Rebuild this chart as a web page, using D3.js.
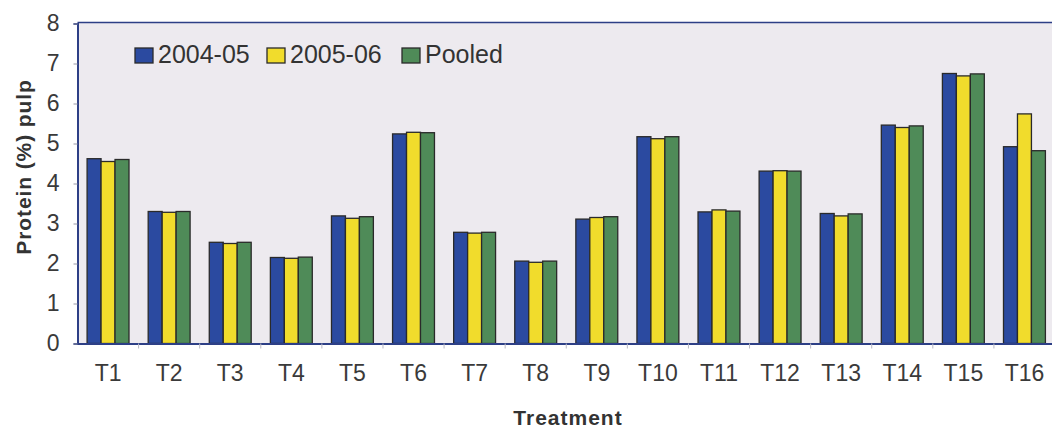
<!DOCTYPE html>
<html>
<head>
<meta charset="utf-8">
<script src="https://cdn.jsdelivr.net/npm/d3@7"></script>
<style>
  html, body { margin: 0; padding: 0; background: #ffffff; }
  svg { display: block; }
</style>
</head>
<body>
<svg id="chart" width="1052" height="432"></svg>
<script>
const categories = ["T1","T2","T3","T4","T5","T6","T7","T8","T9","T10","T11","T12","T13","T14","T15","T16"];
const seriesNames = ["2004-05", "2005-06", "Pooled"];
const values2004 = [4.62, 3.30, 2.53, 2.15, 3.19, 5.24, 2.78, 2.06, 3.11, 5.17, 3.29, 4.31, 3.25, 5.46, 6.75, 4.92];
const values2005 = [4.55, 3.28, 2.50, 2.13, 3.13, 5.28, 2.76, 2.03, 3.15, 5.12, 3.34, 4.32, 3.19, 5.40, 6.69, 5.74];
const valuesPooled = [4.60, 3.30, 2.53, 2.16, 3.17, 5.27, 2.78, 2.06, 3.17, 5.17, 3.31, 4.31, 3.24, 5.44, 6.74, 4.82];
const yTicks = [0, 1, 2, 3, 4, 5, 6, 7, 8];
const colors = ["#2b4aa0", "#f1dc2c", "#4f8b58"];

const series = [values2004, values2005, valuesPooled];

const svg = d3.select("#chart");
const mLeft = 77.5, mRight = 1055, mTop = 23.5, mBottom = 343.5;
const FONT = "Liberation Sans, Arial, sans-serif";

const x0 = d3.scaleBand().domain(categories).range([mLeft, mRight]).paddingInner(0.314).paddingOuter(0.157);
const x1 = d3.scaleBand().domain(seriesNames).range([0, x0.bandwidth()]);
const y = d3.scaleLinear().domain([0, 8]).range([mBottom, mTop]);

// plot background
svg.append("rect").attr("x", mLeft).attr("y", mTop - 1).attr("width", mRight - mLeft).attr("height", mBottom - mTop + 1)
  .attr("fill", "#edeaef");

// bars
const groups = svg.append("g").selectAll("g").data(categories).join("g")
  .attr("transform", d => `translate(${x0(d)},0)`);
groups.selectAll("rect").data((c, i) => series.map((s, k) => ({k, v: s[i]}))).join("rect")
  .attr("x", d => x1(seriesNames[d.k]))
  .attr("y", d => y(d.v))
  .attr("width", x1.bandwidth())
  .attr("height", d => y(0) - y(d.v))
  .attr("fill", d => colors[d.k])
  .attr("stroke", "#2a2a2a")
  .attr("stroke-width", 1.3);

// top border
svg.append("line").attr("x1", mLeft).attr("x2", mRight).attr("y1", mTop - 1).attr("y2", mTop - 1)
  .attr("stroke", "#2d3f86").attr("stroke-width", 1.5);

// y axis
const yAxis = d3.axisLeft(y).tickValues(yTicks).tickSize(4).tickPadding(14).tickFormat(d3.format("d"));
const yg = svg.append("g").attr("transform", `translate(${mLeft},0)`).call(yAxis);
yg.select(".domain").attr("stroke", "#2d3f86").attr("stroke-width", 2);
yg.selectAll(".tick line").attr("stroke", "#9a9aa8");
yg.selectAll(".tick text").attr("font-family", FONT).attr("font-size", 23)
  .attr("fill", "#3a3a3a");

// x axis
const xAxis = d3.axisBottom(x0).tickSize(0).tickPadding(21);
const xg = svg.append("g").attr("transform", `translate(0,${mBottom})`).call(xAxis);
xg.select(".domain").attr("stroke", "#2d3f86").attr("stroke-width", 2);
xg.selectAll(".tick text").attr("font-family", FONT).attr("font-size", 23)
  .attr("fill", "#3a3a3a");
// separators between categories
svg.append("g").selectAll("line").data(categories.slice(1)).join("line")
  .attr("x1", d => x0(d) - x0.step() * x0.paddingInner() / 2)
  .attr("x2", d => x0(d) - x0.step() * x0.paddingInner() / 2)
  .attr("y1", mBottom).attr("y2", mBottom + 5)
  .attr("stroke", "#b8b8c4").attr("stroke-width", 1);

// axis titles
svg.append("text").attr("transform", `translate(31,167) rotate(-90)`)
  .attr("text-anchor", "middle").attr("font-family", FONT)
  .attr("font-weight", "bold").attr("font-size", 21).attr("letter-spacing", 0.9).attr("fill", "#333")
  .text("Protein (%) pulp");
svg.append("text").attr("x", 568).attr("y", 425)
  .attr("text-anchor", "middle").attr("font-family", FONT)
  .attr("font-weight", "bold").attr("font-size", 21).attr("letter-spacing", 1).attr("fill", "#333")
  .text("Treatment");

// legend
const legendX = [135, 267, 402];
const lg = svg.append("g").selectAll("g").data(seriesNames).join("g")
  .attr("transform", (d, i) => `translate(${legendX[i]},48)`);
lg.append("rect").attr("width", 18).attr("height", 15)
  .attr("fill", (d, i) => colors[i]).attr("stroke", "#2a2a2a").attr("stroke-width", 1.3);
lg.append("text").attr("x", 23).attr("y", 15.3)
  .attr("font-family", FONT).attr("font-size", 25).attr("fill", "#333")
  .text(d => d);
</script>
</body>
</html>
